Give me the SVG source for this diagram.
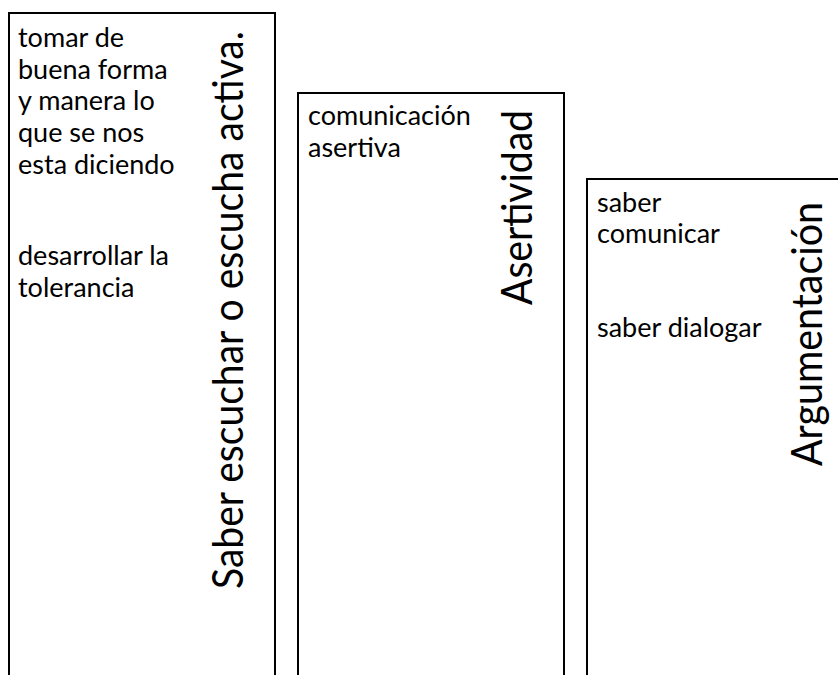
<svg xmlns="http://www.w3.org/2000/svg" width="838" height="675" viewBox="0 0 838 675">
<style>
.box{fill:#fff;stroke:#000;stroke-width:2}
.t{font-family:Lato,"Liberation Sans",sans-serif;font-size:27px;fill:#000}
.h{font-family:Lato,"Liberation Sans",sans-serif;font-size:42px;fill:#000}
</style>
<rect width="838" height="675" fill="#fff"/>
<g id="node-escucha">
<rect class="box" x="9" y="13" width="266" height="700"/>
<text class="t" x="18" y="47">tomar de</text>
<text class="t" x="18" y="78.5">buena forma</text>
<text class="t" x="18" y="110">y manera lo</text>
<text class="t" x="18" y="142">que se nos</text>
<text class="t" x="18" y="174">esta diciendo</text>
<text class="t" x="18" y="265">desarrollar la</text>
<text class="t" x="18" y="297">tolerancia</text>
<text class="h" transform="translate(243,589) rotate(-90)" textLength="558" lengthAdjust="spacingAndGlyphs">Saber escuchar o escucha activa.</text>
</g>
<g id="node-asertividad">
<rect class="box" x="298" y="93" width="266" height="620"/>
<text class="t" x="308" y="125">comunicación</text>
<text class="t" x="308" y="157">asertiva</text>
<text class="h" transform="translate(532,305) rotate(-90)" textLength="195" lengthAdjust="spacingAndGlyphs">Asertividad</text>
</g>
<g id="node-argumentacion">
<rect class="box" x="587" y="179" width="300" height="600"/>
<text class="t" x="597" y="212">saber</text>
<text class="t" x="597" y="243">comunicar</text>
<text class="t" x="597" y="337">saber dialogar</text>
<text class="h" transform="translate(822,466) rotate(-90)" textLength="264" lengthAdjust="spacingAndGlyphs">Argumentación</text>
</g>
<g id="connectors"></g>
</svg>
